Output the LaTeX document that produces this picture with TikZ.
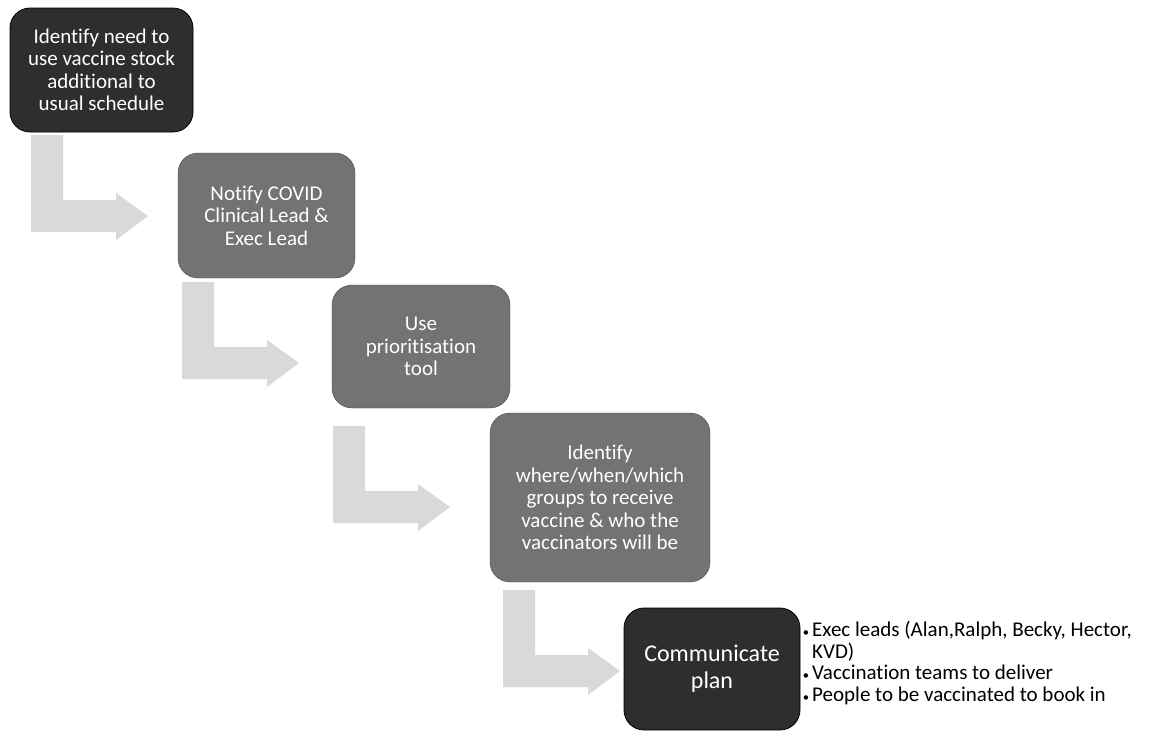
\documentclass[tikz,border=0pt]{standalone}
\usepackage{fontspec}
\setmainfont{Carlito}[Ligatures=NoCommon]
\usetikzlibrary{positioning}

\tikzset{
  stepbox/.style={rounded corners=20pt, align=center, text=white, inner sep=0pt,
    font=\fontsize{21}{22.5}\selectfont},
  darkbox/.style={stepbox, fill=black!82, draw=black, thick},
  greybox/.style={stepbox, fill=black!55, draw=black!72},
  bentarrow/.style={fill=black!15},
}
\newcommand{\dotitem}{\llap{\scalebox{0.6}{\textbullet}\hspace{3pt}}}

\begin{document}
\begin{tikzpicture}[x=1pt,y=-1pt]
	\useasboundingbox (0,0) rectangle (1155,731);

	% steps
	\node[darkbox, minimum width=183pt, minimum height=124pt] (identify) at (101.5,70)
		{Identify need to\\use vaccine stock\\additional to\\usual schedule};
	\node[greybox, minimum width=177pt, minimum height=125pt] (notify) at (266.5,215.5)
		{Notify COVID\\Clinical Lead \&\\Exec Lead};
	\node[greybox, minimum width=178pt, minimum height=123pt] (tool) at (421,346.5)
		{Use\\prioritisation\\tool};
	\node[greybox, minimum width=220pt, minimum height=169pt] (groups) at (600,497.5)
		{Identify\\where/when/which\\groups to receive\\vaccine \& who the\\vaccinators will be};
	\node[darkbox, minimum width=176pt, minimum height=122pt, font=\fontsize{24}{27}\selectfont] (plan) at (712,669)
		{Communicate\\plan};

	% bent arrows between the steps
	\coordinate (a1) at (31,135);
	\coordinate (a2) at (182,282);
	\coordinate (a3) at (333,426);
	\coordinate (a4) at (503,590);
	\foreach \a in {a1,a2,a3,a4}
		\fill[bentarrow] (\a) -- ++(32,0) -- ++(0,65) -- ++(53,0) -- ++(0,-7)
			-- ++(32,23) -- ++(-32,24) -- ++(0,-8) -- ++(-85,0) -- cycle;

	% who is told
	\node[anchor=north west, align=left, inner sep=0pt, font=\fontsize{21}{21.5}\selectfont] (audience) at (812,621)
		{\dotitem Exec leads (Alan,Ralph, Becky, Hector,\\
		 KVD)\\
		 \dotitem Vaccination teams to deliver\\
		 \dotitem People to be vaccinated to book in};
\end{tikzpicture}
\end{document}
